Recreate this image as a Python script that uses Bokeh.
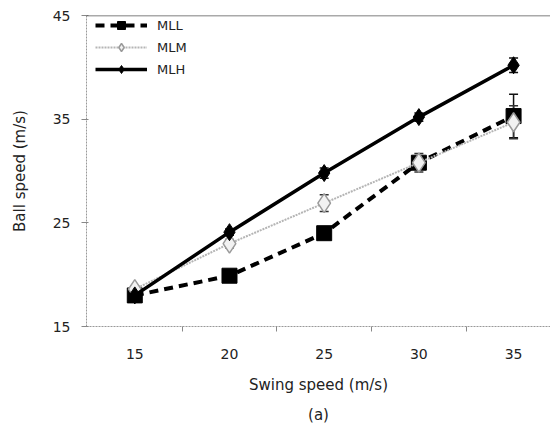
from bokeh.plotting import figure
from bokeh.models import (ColumnDataSource, FixedTicker, Whisker, TeeHead, Span,
                          Title, Legend, LegendItem)
from bokeh.embed import file_html
from bokeh.resources import INLINE

swing = [15, 20, 25, 30, 35]
mll = [18.0, 19.9, 24.0, 30.8, 35.3]
mll_err = [0.3, 0.3, 0.4, 0.5, 2.1]
mlm = [18.6, 23.0, 26.9, 30.8, 34.7]
mlm_err = [0.3, 0.4, 0.8, 0.9, 1.6]
mlh = [18.0, 24.1, 29.8, 35.2, 40.2]
mlh_err = [0.2, 0.3, 0.5, 0.4, 0.7]
y_ticks = [15, 25, 35, 45]

FONT = "DejaVu Sans"

p = figure(frame_width=464, frame_height=311, x_range=(12.45, 36.95), y_range=(15, 45),
           output_backend="svg", toolbar_location=None,
           min_border_left=86, min_border_right=0, min_border_top=15, min_border_bottom=104)
p.grid.visible = False
p.outline_line_color = None
p.background_fill_color = "white"

# axes
p.xaxis.ticker = FixedTicker(ticks=swing, minor_ticks=[17.5, 22.5, 27.5, 32.5])
p.xaxis.major_tick_line_color = None
p.xaxis.major_tick_out = 0
p.xaxis.minor_tick_out = 5
p.xaxis.minor_tick_in = 0
p.xaxis.minor_tick_line_color = "#888888"
p.xaxis.axis_line_color = "#999999"
p.xaxis.axis_line_dash = "2 1"
p.xaxis.major_label_standoff = 17
p.xaxis.axis_label = "Swing speed (m/s)"
p.xaxis.axis_label_standoff = 14

p.yaxis.ticker = FixedTicker(ticks=y_ticks, minor_ticks=[])
p.yaxis.major_tick_out = 5
p.yaxis.major_tick_in = 2
p.yaxis.major_tick_line_color = "#888888"
p.yaxis.axis_line_color = "#999999"
p.yaxis.axis_line_dash = "2 1"
p.yaxis.major_label_standoff = 11
p.yaxis.axis_label = "Ball speed (m/s)"
p.yaxis.axis_label_standoff = 21

for ax in (p.xaxis, p.yaxis):
    ax.major_label_text_font = FONT
    ax.major_label_text_font_size = "14px"
    ax.major_label_text_color = "#222222"
    ax.axis_label_text_font = FONT
    ax.axis_label_text_font_size = "15px"
    ax.axis_label_text_font_style = "normal"
    ax.axis_label_text_color = "#222222"

p.add_layout(Span(location=45, dimension="width", line_color="#555555", line_width=1.5))

src = ColumnDataSource(dict(
    x=swing, mll=mll, mlm=mlm, mlh=mlh,
    mll_lo=[v - e for v, e in zip(mll, mll_err)], mll_hi=[v + e for v, e in zip(mll, mll_err)],
    mlm_lo=[v - e for v, e in zip(mlm, mlm_err)], mlm_hi=[v + e for v, e in zip(mlm, mlm_err)],
    mlh_lo=[v - e for v, e in zip(mlh, mlh_err)], mlh_hi=[v + e for v, e in zip(mlh, mlh_err)],
))

def whisker(name, color):
    w = Whisker(source=src, base="x", lower=name + "_lo", upper=name + "_hi",
                line_color=color, line_width=1.5,
                upper_head=TeeHead(size=9, line_color=color, line_width=1.5),
                lower_head=TeeHead(size=9, line_color=color, line_width=1.5))
    p.add_layout(w)

whisker("mll", "#111111")
whisker("mlm", "#333333")
whisker("mlh", "#111111")

l1 = p.line("x", "mll", source=src, line_color="black", line_width=4, line_dash="9 6")
m1 = p.scatter("x", "mll", source=src, marker="square", size=15, fill_color="black", line_color="black")
l2 = p.line("x", "mlm", source=src, line_color="#b5b5b5", line_width=2, line_dash="2 1")
m2 = p.scatter("x", "mlm", source=src, marker="diamond", size=19, fill_color="#f2f2f2",
               line_color="#9a9a9a", line_width=1.5)
l3 = p.line("x", "mlh", source=src, line_color="black", line_width=3.5)
m3 = p.scatter("x", "mlh", source=src, marker="diamond", size=17, fill_color="black", line_color="black")

legend = Legend(items=[
    LegendItem(label="MLL", renderers=[l1, m1]),
    LegendItem(label="MLM", renderers=[l2, m2]),
    LegendItem(label="MLH", renderers=[l3, m3]),
], location=(9, 247))
legend.border_line_color = None
legend.background_fill_alpha = 0
legend.glyph_width = 52
legend.glyph_height = 20
legend.label_text_font = FONT
legend.label_text_font_size = "13px"
legend.label_text_color = "#222222"
legend.label_standoff = 10
legend.spacing = 2
legend.padding = 0
legend.margin = 0
p.add_layout(legend)

p.add_layout(Title(text="(a)", align="center", text_font=FONT, text_font_size="15px",
                   text_font_style="normal", text_color="#222222", standoff=14), "below")

open("out.html", "w").write(file_html(p, INLINE))
